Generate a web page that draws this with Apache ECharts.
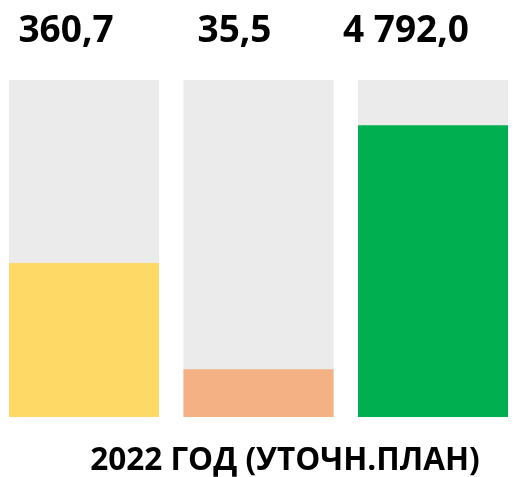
<!DOCTYPE html>
<html>
<head>
<meta charset="utf-8">
<script src="https://cdn.jsdelivr.net/npm/echarts@6/dist/echarts.min.js"></script>
<style>
  html, body { margin: 0; padding: 0; background: #fff; }
  #chart { width: 514px; height: 477px; }
</style>
</head>
<body>
<div id="chart"></div>
<script>
// показатели 2022 года, уточнённый план
const categories = ['a', 'b', 'c']
const valueLabels = ['360,7', '35,5', '4 792,0']
const fillShare = [45.7, 14.2, 86.6]   // доля заполнения столбца, %
const barColors = ['#FED966', '#F4B183', '#00B050']
const caption = '2022 ГОД (УТОЧН.ПЛАН)'

// подписи в макете сдвинуты влево от центра столбцов
const labelShift = [-18, -24, -27]

const myChart = echarts.init(document.getElementById('chart'))

const options = {
  animation: false,
  grid: {
    left: 84,
    right: 81,
    top: 80,
    bottom: 60
  },
  xAxis: {
    type: 'category',
    data: categories,
    boundaryGap: false,
    show: false
  },
  yAxis: {
    type: 'value',
    min: 0,
    max: 100,
    show: false
  },
  title: {
    text: caption,
    left: 280,
    textAlign: 'center',
    top: 440,
    textStyle: {
      fontFamily: 'Open Sans',
      fontWeight: 'bold',
      fontSize: 31.5,
      color: '#000'
    }
  },
  series: [
    {
      type: 'bar',
      barWidth: 150,
      clip: false,
      silent: true,
      showBackground: true,
      backgroundStyle: { color: '#EBEBEB' },
      data: fillShare.map((v, i) => ({
        value: v,
        itemStyle: { color: barColors[i] }
      }))
    },
    {
      // невидимый столбец до верха — только для подписей значений
      type: 'bar',
      barWidth: 150,
      barGap: '-100%',
      clip: false,
      silent: true,
      itemStyle: { color: 'transparent' },
      data: categories.map((c, i) => ({
        value: 100,
        label: { offset: [labelShift[i], 0] }
      })),
      label: {
        show: true,
        position: 'top',
        distance: 30,
        formatter: p => valueLabels[p.dataIndex],
        fontFamily: 'Open Sans',
        fontWeight: 'bold',
        fontSize: 37,
        color: '#000'
      }
    }
  ]
}
myChart.setOption(options)
</script>
</body>
</html>
